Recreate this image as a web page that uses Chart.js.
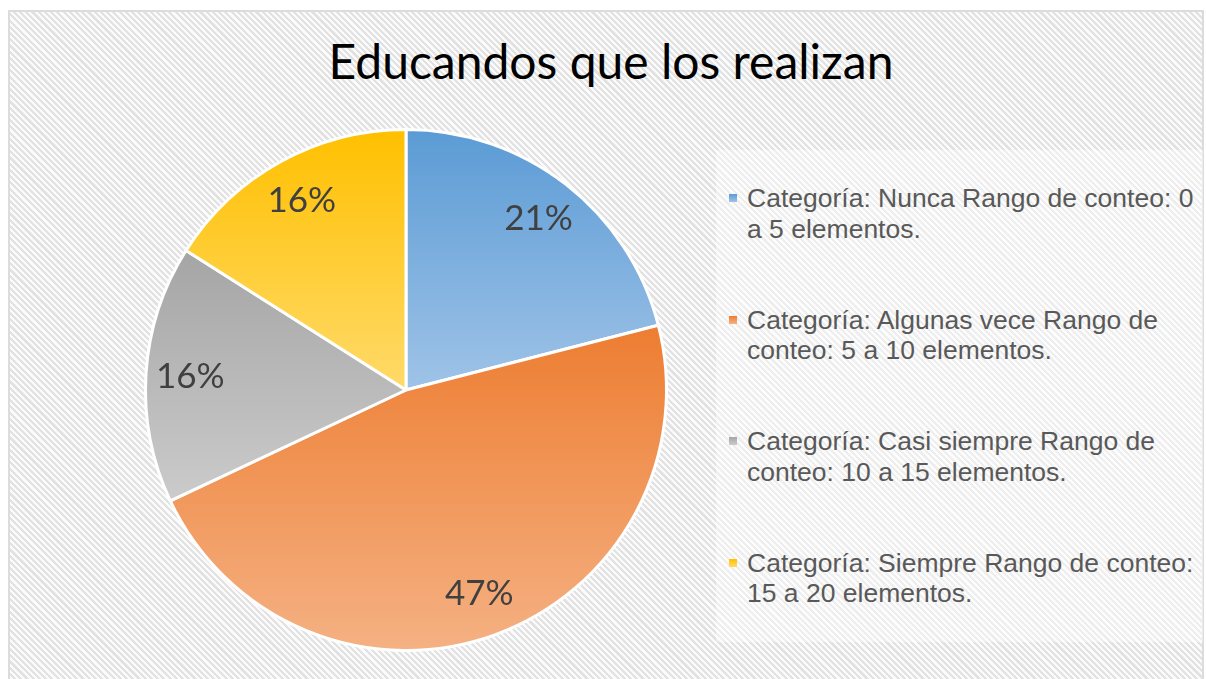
<!DOCTYPE html>
<html>
<head>
<meta charset="utf-8">
<script src="https://cdn.jsdelivr.net/npm/chart.js@4"></script>
<style>
  html, body { margin: 0; padding: 0; background: #fff; }
  body { width: 1206px; height: 679px; position: relative; overflow: hidden; }
  #frame {
    position: absolute; left: 8px; top: 10px; width: 1196px; height: 680px;
    box-sizing: border-box; border: 2px solid #dcdcdc;
    background: repeating-linear-gradient(45deg, #e2e2e2 0px, #e2e2e2 2.2px, #fbfbfb 2.2px, #fbfbfb 4.4px);
  }
  #legendBox {
    position: absolute; left: 716px; top: 150px; width: 487px; height: 492px;
    background: rgba(255,255,255,0.42);
  }
  #title {
    position: absolute; left: 8px; top: 37px; width: 1206px; text-align: center;
    font-family: Lato, sans-serif; font-size: 48px; line-height: 48px; color: #000;
  }
  #chartWrap { position: absolute; left: 124px; top: 108px; width: 564px; height: 564px; }
  #legend {
    position: absolute; left: 729px; top: 183px; width: 474px;
    font-family: "Liberation Sans", Arial, sans-serif; font-size: 26.5px; line-height: 30.5px; color: #595959;
  }
  .item { position: relative; padding-left: 18px; height: 61px; margin-bottom: 60.5px; }
  .item i { position: absolute; left: 0; top: 11px; width: 8px; height: 8px; }
</style>
</head>
<body>
<div id="frame"></div>
<div id="legendBox"></div>
<div id="title">Educandos que los realizan</div>
<div id="chartWrap"><canvas id="chart"></canvas></div>
<div id="legend"></div>
<script>
const categories = [
  'Categoría: Nunca Rango de conteo: 0 a 5 elementos.',
  'Categoría: Algunas vece Rango de conteo: 5 a 10 elementos.',
  'Categoría: Casi siempre Rango de conteo: 10 a 15 elementos.',
  'Categoría: Siempre Rango de conteo: 15 a 20 elementos.'
];
const values = [21, 47, 16, 16];

const topColors = ['#5b9bd5', '#ed7d31', '#a5a5a5', '#ffc000'];
const bottomColors = ['#9fc3e7', '#f5b183', '#cbcbcb', '#ffda6a'];

// legend built from the same arrays
const legendEl = document.getElementById('legend');
categories.forEach((c, i) => {
  const d = document.createElement('div');
  d.className = 'item';
  d.innerHTML = '<i style="background:linear-gradient(' + topColors[i] + ',' + bottomColors[i] + ')"></i>' + c;
  legendEl.appendChild(d);
});

// vertical gradient over each slice's own box
const sliceGradient = {
  id: 'sliceGradient',
  beforeDatasetsDraw(chart) {
    const ctx = chart.ctx;
    chart.getDatasetMeta(0).data.forEach((arc, i) => {
      const p = arc.getProps(['x', 'y', 'startAngle', 'endAngle', 'outerRadius'], true);
      const r = p.outerRadius;
      const ys = [p.y, p.y + r * Math.sin(p.startAngle), p.y + r * Math.sin(p.endAngle)];
      const inRange = a => { let t = a; while (t < p.startAngle) t += 2 * Math.PI; return t <= p.endAngle + 1e-6; };
      if (inRange(-Math.PI / 2)) ys.push(p.y - r);
      if (inRange(Math.PI / 2)) ys.push(p.y + r);
      const g = ctx.createLinearGradient(0, Math.min(...ys), 0, Math.max(...ys));
      g.addColorStop(0, topColors[i]);
      g.addColorStop(1, bottomColors[i]);
      arc.options.backgroundColor = g;
    });
  }
};

const percentLabels = {
  id: 'percentLabels',
  afterDatasetsDraw(chart) {
    const ctx = chart.ctx;
    const total = values.reduce((a, b) => a + b, 0);
    ctx.save();
    ctx.font = '35px Lato, sans-serif';
    ctx.fillStyle = '#404040';
    ctx.textAlign = 'center';
    ctx.textBaseline = 'middle';
    chart.getDatasetMeta(0).data.forEach((arc, i) => {
      const p = arc.getProps(['x', 'y', 'startAngle', 'endAngle', 'outerRadius'], true);
      const mid = (p.startAngle + p.endAngle) / 2;
      const d = p.outerRadius * 0.83;
      ctx.fillText(Math.round(values[i] / total * 100) + '%', p.x + d * Math.cos(mid), p.y + d * Math.sin(mid));
    });
    ctx.restore();
  }
};

const chart = new Chart(document.getElementById('chart'), {
  type: 'pie',
  data: {
    labels: categories,
    datasets: [{
      data: values,
      backgroundColor: topColors,
      borderColor: '#ffffff',
      borderWidth: 3
    }]
  },
  options: {
    responsive: true,
    maintainAspectRatio: false,
    animation: false,
    layout: { padding: 20 },
    plugins: {
      legend: { display: false },
      tooltip: { enabled: false }
    }
  },
  plugins: [sliceGradient, percentLabels]
});
</script>
</body>
</html>
